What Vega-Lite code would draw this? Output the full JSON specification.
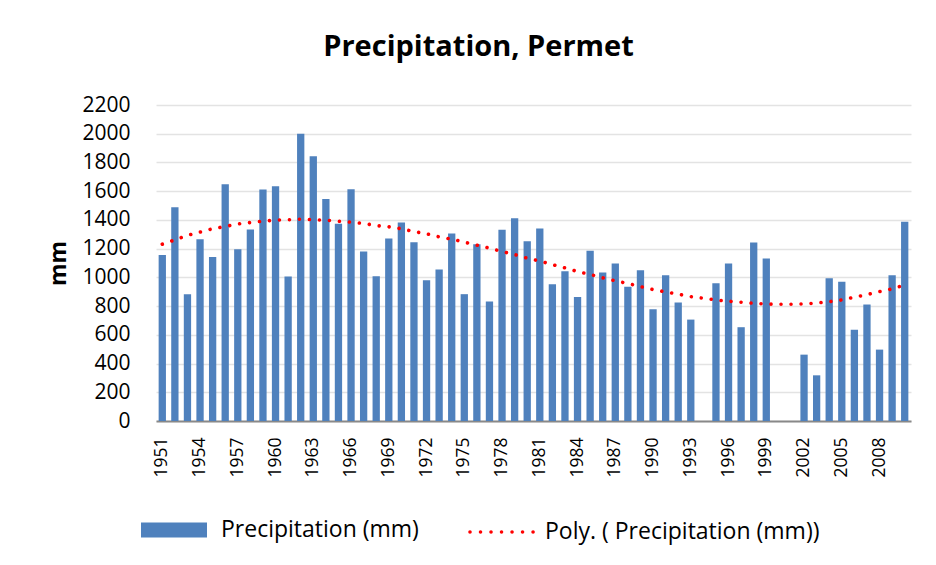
{
  "$schema": "https://vega.github.io/schema/vega-lite/v6.json",
  "width": 755,
  "height": 316,
  "autosize": {"type": "none"},
  "padding": {"left": 156, "top": 105, "right": 25, "bottom": 144},
  "background": "white",
  "config": {
    "view": {"stroke": null},
    "font": "Open Sans",
    "axis": {"labelFont": "Open Sans", "titleFont": "Open Sans", "labelColor": "#000000", "titleColor": "#000000"},
    "axisY": {
      "values": [0,200,400,600,800,1000,1200,1400,1600,1800,2000,2200],
      "format": "d",
      "labelOverlap": false,
      "labelFontSize": 21,
      "labelPadding": 26,
      "ticks": false,
      "domain": false,
      "gridColor": "#e3e3e3",
      "gridWidth": 1.5
    },
    "legend": {"labelFont": "Open Sans", "labelColor": "#000000"}
  },
  "title": {
    "text": "Precipitation, Permet",
    "fontSize": 29,
    "fontWeight": "bold",
    "font": "Open Sans",
    "color": "#000000",
    "anchor": "middle",
    "baseline": "alphabetic",
    "offset": 9,
    "dx": -55
  },
  "data": {
    "values": [
      {"year": "1951", "p": 1155, "t": 1231},
      {"year": "1952", "p": 1489, "t": 1261},
      {"year": "1953", "p": 883, "t": 1292},
      {"year": "1954", "p": 1266, "t": 1315},
      {"year": "1955", "p": 1141, "t": 1338},
      {"year": "1956", "p": 1649, "t": 1354},
      {"year": "1957", "p": 1196, "t": 1371},
      {"year": "1958", "p": 1333, "t": 1382},
      {"year": "1959", "p": 1612, "t": 1391},
      {"year": "1960", "p": 1635, "t": 1398},
      {"year": "1961", "p": 1006, "t": 1401},
      {"year": "1962", "p": 2000, "t": 1405},
      {"year": "1963", "p": 1844, "t": 1401},
      {"year": "1964", "p": 1545, "t": 1398},
      {"year": "1965", "p": 1373, "t": 1391},
      {"year": "1966", "p": 1614, "t": 1384},
      {"year": "1967", "p": 1180, "t": 1375},
      {"year": "1968", "p": 1008, "t": 1361},
      {"year": "1969", "p": 1271, "t": 1352},
      {"year": "1970", "p": 1382, "t": 1338},
      {"year": "1971", "p": 1245, "t": 1319},
      {"year": "1972", "p": 980, "t": 1303},
      {"year": "1973", "p": 1055, "t": 1282},
      {"year": "1974", "p": 1306, "t": 1266},
      {"year": "1975", "p": 883, "t": 1245},
      {"year": "1976", "p": 1231, "t": 1224},
      {"year": "1977", "p": 832, "t": 1203},
      {"year": "1978", "p": 1331, "t": 1180},
      {"year": "1979", "p": 1412, "t": 1159},
      {"year": "1980", "p": 1252, "t": 1134},
      {"year": "1981", "p": 1340, "t": 1113},
      {"year": "1982", "p": 952, "t": 1089},
      {"year": "1983", "p": 1043, "t": 1066},
      {"year": "1984", "p": 864, "t": 1041},
      {"year": "1985", "p": 1185, "t": 1020},
      {"year": "1986", "p": 1034, "t": 997},
      {"year": "1987", "p": 1096, "t": 976},
      {"year": "1988", "p": 934, "t": 957},
      {"year": "1989", "p": 1050, "t": 936},
      {"year": "1990", "p": 778, "t": 915},
      {"year": "1991", "p": 1015, "t": 899},
      {"year": "1992", "p": 825, "t": 883},
      {"year": "1993", "p": 706, "t": 866},
      {"year": "1994", "p": null, "t": 855},
      {"year": "1995", "p": 959, "t": 843},
      {"year": "1996", "p": 1096, "t": 834},
      {"year": "1997", "p": 653, "t": 827},
      {"year": "1998", "p": 1243, "t": 820},
      {"year": "1999", "p": 1131, "t": 815},
      {"year": "2000", "p": null, "t": 813},
      {"year": "2001", "p": null, "t": 813},
      {"year": "2002", "p": 462, "t": 815},
      {"year": "2003", "p": 318, "t": 822},
      {"year": "2004", "p": 994, "t": 831},
      {"year": "2005", "p": 969, "t": 843},
      {"year": "2006", "p": 636, "t": 862},
      {"year": "2007", "p": 811, "t": 880},
      {"year": "2008", "p": 497, "t": 901},
      {"year": "2009", "p": 1015, "t": 920},
      {"year": "2010", "p": 1387, "t": 948}
    ]
  },
  "encoding": {
    "x": {
      "field": "year",
      "type": "ordinal",
      "sort": "ascending",
      "scale": {"paddingInner": 0.42, "paddingOuter": 0.21},
      "axis": {
        "title": null,
        "values": ["1951","1954","1957","1960","1963","1966","1969","1972","1975","1978","1981","1984","1987","1990","1993","1996","1999","2002","2005","2008"],
        "labelAngle": -90,
        "labelFontSize": 17.5,
        "labelPadding": 16,
        "labelOverlap": false,
        "ticks": false,
        "domainColor": "#898989",
        "domainWidth": 2,
        "grid": false
      }
    }
  },
  "layer": [
    {
      "mark": {"type": "bar", "fill": "#4f81bd"},
      "encoding": {
        "y": {
          "field": "p",
          "type": "quantitative",
          "scale": {"domain": [0, 2200], "nice": false},
          "axis": {
            "title": "mm",
            "titleFontSize": 23,
            "titleFontWeight": "bold",
            "titleAngle": -90,
            "titleX": -98,
            "titleY": 158,
            "titleAlign": "center",
            "titleBaseline": "middle",
            "values": [0,200,400,600,800,1000,1200,1400,1600,1800,2000,2200],
            "tickCount": 12
          }
        },
        "fill": {
          "datum": "Precipitation (mm)",
          "type": "nominal",
          "scale": {"range": ["#4f81bd"]},
          "legend": {
            "title": null,
            "orient": "none",
            "legendX": -15,
            "legendY": 392,
            "padding": 0,
            "symbolType": "M-1,-0.227H1V0.227H-1Z",
            "symbolSize": 4356,
            "symbolStrokeWidth": 0,
            "symbolOpacity": 1,
            "labelFontSize": 23,
            "labelOffset": 14,
            "labelLimit": 400
          }
        }
      }
    },
    {
      "mark": {"type": "line", "strokeWidth": 3.6, "strokeCap": "round", "strokeDash": [0.01, 10], "interpolate": "monotone"},
      "encoding": {
        "y": {
          "field": "t",
          "type": "quantitative",
          "axis": {
            "title": "mm",
            "values": [0,200,400,600,800,1000,1200,1400,1600,1800,2000,2200],
            "tickCount": 12
          }
        },
        "stroke": {
          "datum": "Poly. ( Precipitation (mm))",
          "type": "nominal",
          "scale": {"range": ["#ff0000"]},
          "legend": {
            "title": null,
            "orient": "none",
            "legendX": 312,
            "legendY": 392,
            "padding": 0,
            "symbolType": "stroke",
            "symbolSize": 4356,
            "symbolStrokeWidth": 3.6,
            "symbolDash": [0.01, 10.5],
            "labelFontSize": 23,
            "labelOffset": 7,
            "labelLimit": 400,
            "encode": {"symbols": {"update": {"strokeCap": {"value": "round"}}}}
          }
        }
      }
    }
  ]
}
